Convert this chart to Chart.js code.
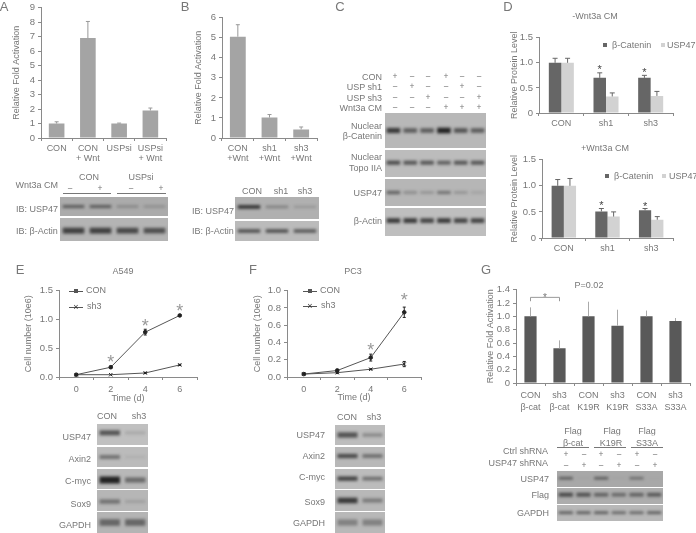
<!DOCTYPE html>
<html>
<head>
<meta charset="utf-8">
<title>USP47 figure</title>
<script src="https://cdn.jsdelivr.net/npm/chart.js@4"></script>
<style>
  html, body { margin: 0; padding: 0; background: #fff; }
  #stage { position: relative; width: 696px; height: 533px; overflow: hidden; font-family: "Liberation Sans", Arial, sans-serif; color: #777; background: #fff; filter: blur(0.4px); }
  #stage canvas { position: absolute; }
  .t { position: absolute; white-space: nowrap; line-height: 1; will-change: transform; }
  .blot { position: absolute; overflow: hidden; }
  .blot canvas { filter: blur(1.4px); }
  .ln { position: absolute; background: #777; }
</style>
</head>
<body>
<div id="stage"></div>
<script>
// panel A
const catA = [["CON"], ["CON", "+ Wnt"], ["USPsi"], ["USPsi", "+ Wnt"]];
const valA = [1.0, 6.9, 1.0, 1.9];
const topA = [1.12, 8.05, 1.03, 2.07];
const ticksA = ["0", "1", "2", "3", "4", "5", "6", "7", "8", "9"];

// panel B
const catB = [["CON", "+Wnt"], ["sh1", "+Wnt"], ["sh3", "+Wnt"]];
const valB = [5.05, 1.02, 0.43];
const topB = [5.65, 1.17, 0.55];
const ticksB = ["0", "1", "2", "3", "4", "5", "6"];

// panel D
const catD = ["CON", "sh1", "sh3"];
const ticksD = ["0", "0.5", "1.0", "1.5"];
const d1Cat = [1.0, 0.7, 0.7];
const d1Usp = [1.0, 0.33, 0.34];
const d1CatTop = [1.09, 0.8, 0.75];
const d1UspTop = [1.09, 0.4, 0.43];
const d1Stars = [[0, 1, 0.9], [0, 2, 0.85]];
const d2Cat = [1.0, 0.51, 0.53];
const d2Usp = [1.0, 0.41, 0.35];
const d2CatTop = [1.12, 0.565, 0.565];
const d2UspTop = [1.14, 0.5, 0.41];
const d2Stars = [[0, 1, 0.67], [0, 2, 0.65]];

// panels E and F
const days = ["0", "2", "4", "6"];
const ticksE = ["0.0", "0.5", "1.0", "1.5"];
const eCon = [0.04, 0.17, 0.78, 1.07];
const eConErr = [0, 0.02, 0.05, 0.015];
const eSh3 = [0.04, 0.04, 0.07, 0.21];
const eSh3Err = [0, 0, 0.01, 0.01];
const eStars = [[0, 1, 0.32], [0, 2, 0.94], [0, 3, 1.2]];
const ticksF = ["0.0", "0.2", "0.4", "0.6", "0.8", "1.0"];
const fCon = [0.034, 0.075, 0.225, 0.75];
const fConErr = [0, 0.015, 0.04, 0.06];
const fSh3 = [0.034, 0.05, 0.09, 0.15];
const fSh3Err = [0, 0.01, 0.005, 0.03];
const fStars = [[0, 2, 0.35], [0, 3, 0.93]];

// panel G
const catG = [["CON", "β-cat"], ["sh3", "β-cat"], ["CON", "K19R"], ["sh3", "K19R"], ["CON", "S33A"], ["sh3", "S33A"]];
const valG = [1.0, 0.52, 1.0, 0.86, 1.0, 0.93];
const topG = [1.135, 0.64, 1.22, 1.10, 1.087, 0.975];
const ticksG = ["0", "0.2", "0.4", "0.6", "0.8", "1.0", "1.2", "1.4"];

// band darkness per lane, read by eye from the blots
const blotAUsp = [0.6, 0.6, 0.3, 0.25];
const blotAAct = [0.75, 0.75, 0.7, 0.65];
const blotBUsp = [0.85, 0.35, 0.2];
const blotBAct = [0.7, 0.7, 0.65];
const blotCCat = [0.8, 0.6, 0.6, 0.95, 0.65, 0.6];
const blotCTopo = [0.7, 0.65, 0.65, 0.6, 0.65, 0.65];
const blotCUsp = [0.55, 0.3, 0.25, 0.45, 0.25, 0.15];
const blotCAct = [0.8, 0.8, 0.75, 0.8, 0.75, 0.75];
const blotEUsp = [0.65, 0.15];
const blotEAxin = [0.45, 0.08];
const blotEMyc = [0.95, 0.5];
const blotESox = [0.45, 0.15];
const blotEGapdh = [0.5, 0.5];
const blotFUsp = [0.65, 0.3];
const blotFAxin = [0.7, 0.5];
const blotFMyc = [0.75, 0.5];
const blotFSox = [0.8, 0.4];
const blotFGapdh = [0.35, 0.35];
const blotGUsp = [0.6, 0.05, 0.6, 0.05, 0.5, 0.02];
const blotGFlag = [0.7, 0.65, 0.55, 0.5, 0.55, 0.6];
const blotGGapdh = [0.65, 0.65, 0.65, 0.6, 0.6, 0.65];

// +/- rows above the blots
const signsAWnt = ["-", "+", "-", "+"];
const signsCCon = ["+", "-", "-", "+", "-", "-"];
const signsCSh1 = ["-", "+", "-", "-", "+", "-"];
const signsCSh3 = ["-", "-", "+", "-", "-", "+"];
const signsCWnt = ["-", "-", "-", "+", "+", "+"];
const signsGCtrl = ["+", "-", "+", "-", "+", "-"];
const signsGUsp = ["-", "+", "-", "+", "-", "+"];

const stage = document.getElementById("stage");
const FONT = "Liberation Sans";
const TEXT = "#777";
const AXIS = "#8a8a8a";

function txt(x, y, s, align, size, color) {
  const d = document.createElement("div");
  d.className = "t";
  d.textContent = s;
  d.style.left = x + "px";
  d.style.top = y + "px";
  d.style.fontSize = (size || 9) + "px";
  if (color) d.style.color = color;
  const tx = align === "r" ? "-100%" : align === "l" ? "0" : "-50%";
  d.style.transform = "translate(" + tx + ",-50%)";
  stage.appendChild(d);
}

function line(x0, y, x1, h, color) {
  const d = document.createElement("div");
  d.className = "ln";
  d.style.left = x0 + "px";
  d.style.top = y + "px";
  d.style.width = x1 - x0 + "px";
  d.style.height = (h || 1) + "px";
  if (color) d.style.background = color;
  stage.appendChild(d);
}

function signs(list, xs, y) {
  list.forEach((s, i) => txt(xs[i], y, s === "-" ? "–" : s, "c", 8.5));
}

// error bars, stars and the bracket in G
const extras = {
  id: "extras",
  afterDatasetsDraw(chart, args, opts) {
    const c = chart.ctx;
    const y = chart.scales.y;
    c.save();
    (opts.tops || []).forEach((tops, ds) => {
      const bars = chart.getDatasetMeta(ds).data;
      tops.forEach((t, i) => {
        const b = bars[i];
        c.strokeStyle = opts.errColor;
        c.lineWidth = 1;
        c.beginPath();
        c.moveTo(b.x, y.getPixelForValue(chart.data.datasets[ds].data[i]));
        c.lineTo(b.x, y.getPixelForValue(t));
        if (opts.cap) {
          c.moveTo(b.x - opts.cap, y.getPixelForValue(t));
          c.lineTo(b.x + opts.cap, y.getPixelForValue(t));
        }
        c.stroke();
      });
    });
    (opts.errs || []).forEach((errs, ds) => {
      const pts = chart.getDatasetMeta(ds).data;
      errs.forEach((e, i) => {
        if (!e) return;
        const v = chart.data.datasets[ds].data[i];
        const p = pts[i];
        c.strokeStyle = "#222";
        c.lineWidth = 1;
        c.beginPath();
        c.moveTo(p.x, y.getPixelForValue(v - e));
        c.lineTo(p.x, y.getPixelForValue(v + e));
        [v - e, v + e].forEach(w => {
          c.moveTo(p.x - 1.5, y.getPixelForValue(w));
          c.lineTo(p.x + 1.5, y.getPixelForValue(w));
        });
        c.stroke();
      });
    });
    (opts.stars || []).forEach(s => {
      const el = chart.getDatasetMeta(s[0]).data[s[1]];
      const size = opts.starSize || 11;
      c.font = size + "px " + FONT;
      c.fillStyle = opts.starColor || "#555";
      c.textAlign = "center";
      c.textBaseline = "alphabetic";
      c.fillText("*", el.x, y.getPixelForValue(s[2]) + size * 0.5);
    });
    if (opts.bracket) {
      const br = opts.bracket;
      const x0 = chart.scales.x.getPixelForValue(br[0]);
      const x1 = chart.scales.x.getPixelForValue(br[1]);
      const yt = y.getPixelForValue(br[2]);
      const yb = y.getPixelForValue(br[3]);
      c.strokeStyle = "#999";
      c.lineWidth = 1;
      c.beginPath();
      c.moveTo(x0, yb);
      c.lineTo(x0, yt);
      c.lineTo(x1, yt);
      c.lineTo(x1, yb);
      c.stroke();
      c.font = "10px " + FONT;
      c.fillStyle = "#777";
      c.textAlign = "center";
      c.fillText("*", (x0 + x1) / 2, yt + 4);
    }
    c.restore();
  }
};

// plot box is given in page pixels, the canvas grows around it
function plot(box, cfg) {
  const padL = box.padL, padB = box.padB, padT = 6, padR = 6;
  const cv = document.createElement("canvas");
  const w = box.x1 - box.x0 + padL + padR;
  const h = box.y1 - box.y0 + padT + padB;
  cv.width = w;
  cv.height = h;
  cv.style.left = box.x0 - padL + "px";
  cv.style.top = box.y0 - padT + "px";
  cv.style.width = w + "px";
  cv.style.height = h + "px";
  stage.appendChild(cv);
  const yLabels = cfg.yLabels;
  return new Chart(cv, {
    type: cfg.type,
    data: { labels: cfg.labels, datasets: cfg.datasets },
    plugins: [extras],
    options: {
      responsive: false,
      animation: false,
      layout: { padding: { top: padT, right: padR, left: 0, bottom: 0 } },
      plugins: { legend: { display: false }, tooltip: { enabled: false }, extras: cfg.extras || {} },
      scales: {
        x: {
          offset: true,
          grid: { offset: true, drawOnChartArea: false, tickLength: 3, color: AXIS },
          border: { color: AXIS },
          afterFit: s => { s.height = padB; },
          ticks: { color: TEXT, font: { family: FONT, size: box.xSize || 9, lineHeight: box.xLine || 1.15 }, padding: box.xPad === undefined ? 2 : box.xPad, maxRotation: 0, autoSkip: false },
          title: cfg.xTitle ? { display: true, text: cfg.xTitle, color: TEXT, font: { family: FONT, size: 9 }, padding: 0 } : { display: false }
        },
        y: {
          min: cfg.min,
          max: cfg.max,
          grid: { drawOnChartArea: false, tickLength: 3, color: AXIS },
          border: { color: AXIS },
          afterFit: s => { s.width = padL; },
          afterBuildTicks: s => { s.ticks = yLabels.map((_, i) => ({ value: cfg.min + i * cfg.step })); },
          ticks: { color: TEXT, font: { family: FONT, size: box.ySize || 9.5 }, padding: 3, autoSkip: false, callback: (v, i) => yLabels[i] },
          title: { display: true, text: cfg.yTitle, color: TEXT, font: { family: FONT, size: 9 }, padding: 0 }
        }
      }
    }
  });
}

function oneBar(labels, data, color, top, width, errColor, cap) {
  return {
    labels: labels,
    datasets: [{ data: data, backgroundColor: color, barPercentage: width, categoryPercentage: 1 }],
    extras: { tops: [top], errColor: errColor, cap: cap }
  };
}

function twoBars(a, b) {
  return [
    { data: a, backgroundColor: "#666666", barPercentage: 1, categoryPercentage: 0.56 },
    { data: b, backgroundColor: "#d2d2d2", barPercentage: 1, categoryPercentage: 0.56 }
  ];
}

function curves(con, sh3) {
  return [
    { data: con, borderColor: "#555", borderWidth: 1, pointStyle: "circle", pointRadius: 1.8, pointBackgroundColor: "#222", pointBorderColor: "#222" },
    { data: sh3, borderColor: "#555", borderWidth: 1, pointStyle: "crossRot", pointRadius: 2.4, pointBorderColor: "#222", pointBorderWidth: 1 }
  ];
}

// one western blot strip: the bands are floating bars on a hidden scale
function blot(x, y, w, h, bg, values, center, thick) {
  const wrap = document.createElement("div");
  wrap.className = "blot";
  wrap.style.left = x + "px";
  wrap.style.top = y + "px";
  wrap.style.width = w + "px";
  wrap.style.height = h + "px";
  wrap.style.background = bg;
  const cv = document.createElement("canvas");
  cv.width = w;
  cv.height = h;
  cv.style.left = "0";
  cv.style.top = "0";
  wrap.appendChild(cv);
  stage.appendChild(wrap);
  const half = v => thick * 0.75 * (0.4 + 0.6 * v);
  new Chart(cv, {
    type: "bar",
    data: {
      labels: values.map((_, i) => i),
      datasets: [{
        data: values.map(v => [center - half(v), center + half(v)]),
        backgroundColor: values.map(v => "rgba(25,25,25," + v + ")"),
        barPercentage: 0.8,
        categoryPercentage: 1
      }]
    },
    options: {
      responsive: false,
      animation: false,
      layout: { padding: 0 },
      plugins: { legend: { display: false }, tooltip: { enabled: false } },
      scales: {
        x: { display: false },
        y: { display: false, reverse: true, min: 0, max: 1 }
      }
    }
  });
}

// A
plot({ x0: 41, x1: 166, y0: 5, y1: 138, padL: 30, padB: 26 }, Object.assign(
  oneBar(catA, valA, "#a4a4a4", topA, 0.5, "#999", 2),
  { type: "bar", min: 0, max: 9, step: 1, yLabels: ticksA, yTitle: "Relative Fold Activation" }));
// B
plot({ x0: 222, x1: 317, y0: 15, y1: 138, padL: 29, padB: 26 }, Object.assign(
  oneBar(catB, valB, "#a4a4a4", topB, 0.5, "#999", 2),
  { type: "bar", min: 0, max: 6, step: 1, yLabels: ticksB, yTitle: "Relative Fold Activation" }));
// D top
plot({ x0: 539, x1: 673, y0: 35, y1: 113, padL: 30, padB: 14, xPad: 2 }, {
  type: "bar", labels: catD, datasets: twoBars(d1Cat, d1Usp), min: 0, max: 1.5, step: 0.5, yLabels: ticksD,
  yTitle: "Relative Protein Level", extras: { tops: [d1CatTop, d1UspTop], errColor: "#666", cap: 2.5, stars: d1Stars, starSize: 11, starColor: "#444" }
});
// D bottom
plot({ x0: 542, x1: 673, y0: 157, y1: 238, padL: 33, padB: 14, xPad: 2 }, {
  type: "bar", labels: catD, datasets: twoBars(d2Cat, d2Usp), min: 0, max: 1.5, step: 0.5, yLabels: ticksD,
  yTitle: "Relative Protein Level", extras: { tops: [d2CatTop, d2UspTop], errColor: "#666", cap: 2.5, stars: d2Stars, starSize: 11, starColor: "#444" }
});
// E
plot({ x0: 59, x1: 197, y0: 288, y1: 377, padL: 36, padB: 27, xPad: 4 }, {
  type: "line", labels: days, datasets: curves(eCon, eSh3), min: 0, max: 1.5, step: 0.5, yLabels: ticksE,
  yTitle: "Cell number (10e6)", xTitle: "Time (d)", extras: { errs: [eConErr, eSh3Err], stars: eStars, starSize: 18, starColor: "#999" }
});
// F
plot({ x0: 287, x1: 421, y0: 288, y1: 377, padL: 35, padB: 26, xPad: 4 }, {
  type: "line", labels: days, datasets: curves(fCon, fSh3), min: 0, max: 1, step: 0.2, yLabels: ticksF,
  yTitle: "Cell number (10e6)", xTitle: "Time (d)", extras: { errs: [fConErr, fSh3Err], stars: fStars, starSize: 18, starColor: "#999" }
});
// G
const gCfg = oneBar(catG, valG, "#595959", topG, 0.42, "#aaa", 0);
gCfg.extras.bracket = [0, 1, 1.285, 1.227];
plot({ x0: 516, x1: 690, y0: 287, y1: 383, padL: 31, padB: 30, xPad: 3, xLine: 1.35 }, Object.assign(
  gCfg, { type: "bar", min: 0, max: 1.4, step: 0.2, yLabels: ticksG, yTitle: "Relative Fold Activation" }));

// panel letters
txt(4, 6, "A", "c", 13);
txt(185, 6, "B", "c", 13);
txt(340, 6, "C", "c", 13);
txt(508, 6, "D", "c", 13);
txt(20, 269, "E", "c", 13);
txt(253, 269, "F", "c", 13);
txt(486, 269, "G", "c", 13);

// A blot
txt(89, 177, "CON");
txt(141, 177, "USPsi");
txt(58, 185, "Wnt3a CM", "r");
signs(signsAWnt, [70, 100, 131, 161], 188);
line(63, 193, 111);
line(117, 193, 166);
blot(60, 197, 108, 19, "#ababab", blotAUsp, 0.5, 0.13);
blot(60, 218, 108, 23, "#b4b4b4", blotAAct, 0.55, 0.2);
txt(16, 209, "IB: USP47", "l");
txt(16, 231, "IB: β-Actin", "l");

// B blot
txt(252, 191, "CON");
txt(281, 191, "sh1");
txt(305, 191, "sh3");
blot(235, 197, 84, 22, "#b0b0b0", blotBUsp, 0.45, 0.12);
blot(235, 221, 84, 20, "#bbbbbb", blotBAct, 0.5, 0.14);
txt(192, 211, "IB: USP47", "l");
txt(192, 231, "IB: β-Actin", "l");

// C
const cLanes = [395, 412, 428, 446, 462, 479];
txt(382, 77, "CON", "r");
txt(382, 87, "USP sh1", "r");
txt(382, 98, "USP sh3", "r");
txt(382, 108, "Wnt3a CM", "r");
signs(signsCCon, cLanes, 76);
signs(signsCSh1, cLanes, 86);
signs(signsCSh3, cLanes, 97);
signs(signsCWnt, cLanes, 107);
blot(385, 113, 101, 35, "#b8b8b8", blotCCat, 0.5, 0.11);
blot(385, 150, 101, 27, "#bcbcbc", blotCTopo, 0.47, 0.12);
blot(385, 179, 101, 27, "#b6b6b6", blotCUsp, 0.5, 0.11);
blot(385, 208, 101, 28, "#bebebe", blotCAct, 0.45, 0.13);
txt(382, 126, "Nuclear", "r");
txt(382, 136, "β-Catenin", "r");
txt(382, 157, "Nuclear", "r");
txt(382, 168, "Topo IIA", "r");
txt(382, 193, "USP47", "r");
txt(382, 221, "β-Actin", "r");

// D titles and legends
txt(595, 16, "-Wnt3a CM");
txt(605, 148, "+Wnt3a CM");
line(603, 43, 607, 4, "#666");
txt(612, 45, "β-Catenin", "l");
line(661, 43, 665, 4, "#d2d2d2");
txt(667, 45, "USP47", "l");
line(605, 174, 609, 4, "#666");
txt(614, 176, "β-Catenin", "l");
line(662, 174, 666, 4, "#d2d2d2");
txt(669, 176, "USP47", "l");

// E and F titles, legends, blots
txt(123, 271, "A549");
line(69, 291, 83, 1, "#555");
line(74, 289, 78, 4, "#555");
txt(86, 290, "CON", "l");
line(69, 307, 83, 1, "#555");
txt(76, 307, "×", "c", 9, "#333");
txt(87, 306, "sh3", "l");
txt(107, 416, "CON");
txt(139, 416, "sh3");
blot(97, 424, 51, 21, "#c0c0c0", blotEUsp, 0.42, 0.2);
blot(97, 447, 51, 20, "#bbbbbb", blotEAxin, 0.5, 0.2);
blot(97, 469, 51, 20, "#b8b8b8", blotEMyc, 0.55, 0.24);
blot(97, 490, 51, 21, "#b6b6b6", blotESox, 0.55, 0.2);
blot(97, 512, 51, 21, "#b4b4b4", blotEGapdh, 0.5, 0.3);
txt(91, 437, "USP47", "r");
txt(91, 459, "Axin2", "r");
txt(91, 481, "C-myc", "r");
txt(91, 504, "Sox9", "r");
txt(91, 525, "GAPDH", "r");

txt(353, 271, "PC3");
line(303, 291, 317, 1, "#555");
line(308, 289, 312, 4, "#555");
txt(320, 290, "CON", "l");
line(303, 306, 317, 1, "#555");
txt(310, 306, "×", "c", 9, "#333");
txt(321, 305, "sh3", "l");
txt(347, 417, "CON");
txt(374, 417, "sh3");
blot(335, 425, 50, 20, "#bdbdbd", blotFUsp, 0.5, 0.22);
blot(335, 447, 50, 20, "#b8b8b8", blotFAxin, 0.45, 0.17);
blot(335, 469, 50, 20, "#bcbcbc", blotFMyc, 0.48, 0.17);
blot(335, 490, 50, 21, "#b8b8b8", blotFSox, 0.5, 0.2);
blot(335, 512, 50, 21, "#b8b8b8", blotFGapdh, 0.5, 0.32);
txt(325, 435, "USP47", "r");
txt(325, 456, "Axin2", "r");
txt(325, 477, "C-myc", "r");
txt(325, 502, "Sox9", "r");
txt(325, 523, "GAPDH", "r");

// G
const gLanes = [566, 584, 601, 619, 637, 655];
txt(589, 285, "P=0.02");
txt(573, 431, "Flag");
txt(573, 443, "β-cat");
line(557, 447, 589);
txt(612, 431, "Flag");
txt(611, 443, "K19R");
line(594, 447, 626);
txt(647, 431, "Flag");
txt(647, 443, "S33A");
line(631, 447, 663);
txt(548, 451, "Ctrl shRNA", "r");
txt(548, 463, "USP47 shRNA", "r");
signs(signsGCtrl, gLanes, 454);
signs(signsGUsp, gLanes, 465);
blot(557, 471, 106, 16, "#a8a8a8", blotGUsp, 0.45, 0.13);
blot(557, 488, 106, 16, "#adadad", blotGFlag, 0.42, 0.2);
blot(557, 505, 106, 16, "#b8b8b8", blotGGapdh, 0.48, 0.13);
txt(549, 479, "USP47", "r");
txt(549, 495, "Flag", "r");
txt(549, 513, "GAPDH", "r");
</script>
</body>
</html>
